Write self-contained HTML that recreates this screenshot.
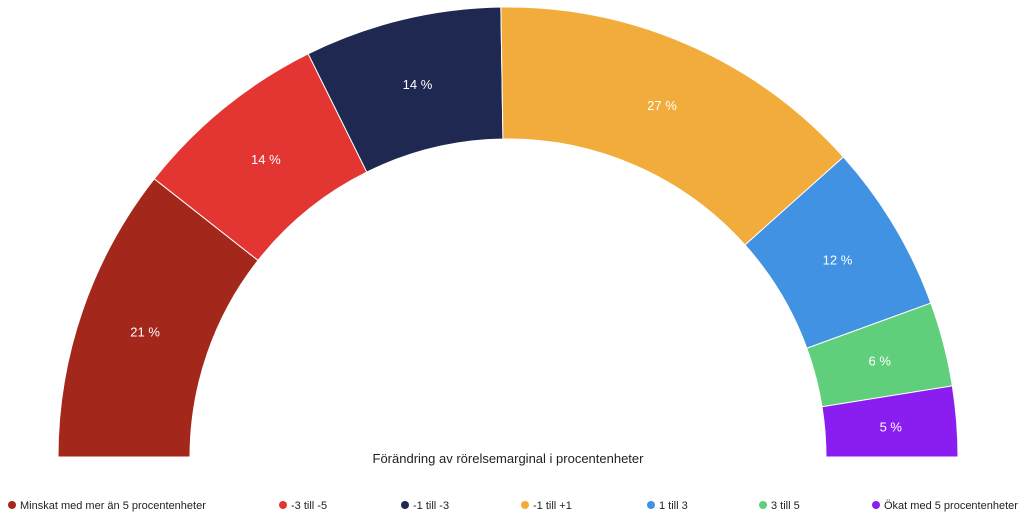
<!DOCTYPE html>
<html><head><meta charset="utf-8">
<style>
body{margin:0;background:#fff;font-family:"Liberation Sans",sans-serif;}
svg{display:block}
</style></head>
<body>
<svg id="chart" width="1024" height="512"></svg>
<script>
const categories=["Minskat med mer än 5 procentenheter","-3 till -5","-1 till -3","-1 till +1","1 till 3","3 till 5","Ökat med 5 procentenheter"];
const values=[21,14,14,27,12,6,5];
const labels=["21 %","14 %","14 %","27 %","12 %","6 %","5 %"];
const colors=["#a3271a","#e33532","#1f2850","#f2ac3c","#4192e3","#5fcf7b","#8a1ef0"];
const legendX=[8,279,401,521,647,759,872];
const NS="http://www.w3.org/2000/svg";
const svg=document.getElementById('chart');
const cx=508,cy=457,R=450,r=318;
const total=values.reduce((a,b)=>a+b,0);
function pt(rad,a){return [cx-rad*Math.cos(a),cy-rad*Math.sin(a)];}
let acc=0;
values.forEach((v,i)=>{
  const a0=acc/total*Math.PI, a1=(acc+v)/total*Math.PI; acc+=v;
  const p1=pt(R,a0),p2=pt(R,a1),p3=pt(r,a1),p4=pt(r,a0);
  const p=document.createElementNS(NS,'path');
  p.setAttribute('d',`M${p1}A${R},${R} 0 0 1 ${p2}L${p3}A${r},${r} 0 0 0 ${p4}Z`);
  p.setAttribute('fill',colors[i]);p.setAttribute('stroke','#fff');p.setAttribute('stroke-width','1');
  
  
  svg.appendChild(p);
  const m=pt((R+r)/2,(a0+a1)/2);
  const t=document.createElementNS(NS,'text');
  t.setAttribute('x',m[0]);t.setAttribute('y',m[1]+5);t.setAttribute('text-anchor','middle');
  t.setAttribute('fill','#fff');t.setAttribute('font-size','13');t.textContent=labels[i];
  
  
  svg.appendChild(t);
});
const title=document.createElementNS(NS,'text');
title.setAttribute('x',508);title.setAttribute('y',463);title.setAttribute('text-anchor','middle');
title.setAttribute('font-size','13');title.setAttribute('fill','#222');
title.textContent="Förändring av rörelsemarginal i procentenheter";


svg.appendChild(title);
categories.forEach((c,i)=>{
  const g=document.createElementNS(NS,'g');
  
  
  const d=document.createElementNS(NS,'circle');
  d.setAttribute('cx',legendX[i]+4);d.setAttribute('cy',505);d.setAttribute('r',4);d.setAttribute('fill',colors[i]);
  g.appendChild(d);
  const t=document.createElementNS(NS,'text');
  t.setAttribute('x',legendX[i]+12);t.setAttribute('y',509);t.setAttribute('font-size','11');t.setAttribute('fill','#222');
  t.textContent=c;g.appendChild(t);
  svg.appendChild(g);
});
</script>
</body></html>
